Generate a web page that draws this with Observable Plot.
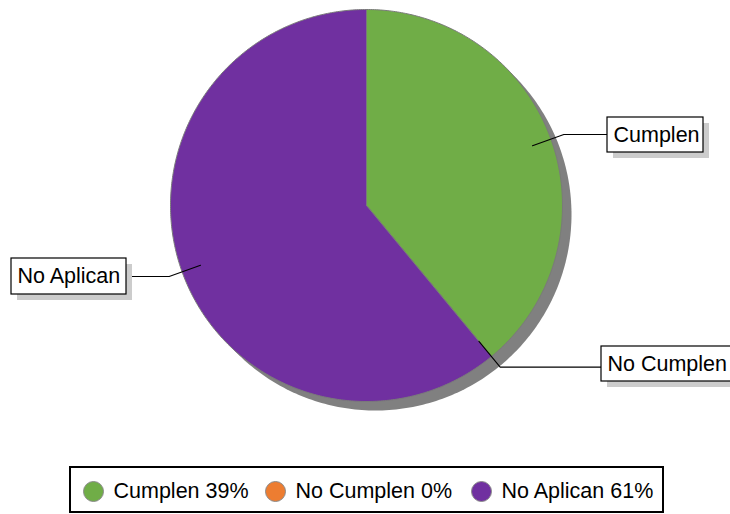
<!DOCTYPE html>
<html>
<head>
<meta charset="utf-8">
<script src="https://cdn.jsdelivr.net/npm/d3@7"></script>
<script src="https://cdn.jsdelivr.net/npm/@observablehq/plot@0.6"></script>
<style>
  html, body { margin: 0; padding: 0; background: #fff; }
  #chart svg { display: block; font-family: "Liberation Sans", Arial, sans-serif; }
</style>
</head>
<body>
<div id="chart"></div>
<script>
// ---- data ----
const categories = ["Cumplen", "No Cumplen", "No Aplican"];
const values = [39, 0, 61];
const colors = ["#70AD47", "#ED7D31", "#7030A0"];

// ---- layout ----
const W = 730, H = 514;
const cx = 366, cy = 205, R = 196;
const shadowOff = 9;
const labelBoxes = [
  {x1: 607, x2: 703, y1: 117, y2: 152},
  {x1: 601, x2: 736, y1: 346, y2: 381},
  {x1: 11,  x2: 126, y1: 258, y2: 294}
];
const legendBox = {x1: 70, x2: 663, y1: 467, y2: 512};
const legendX = [93, 275, 481];
const legendY = 491;
const fontSize = 21.5;

const data = categories.map((c, i) => ({name: c, value: values[i], color: colors[i]}));
const arcs = d3.pie().sort(null).value(d => d.value)(data);

const pt = (a, r) => [cx + r * Math.sin(a), cy - r * Math.cos(a)];

// slice polygons
const slicePts = [];
arcs.forEach((a, i) => {
  slicePts.push({k: i, x: cx, y: cy, name: a.data.name});
  const n = Math.max(2, Math.ceil((a.endAngle - a.startAngle) / 0.01));
  for (let j = 0; j <= n; j++) {
    const t = a.startAngle + (a.endAngle - a.startAngle) * j / n;
    const [x, y] = pt(t, R);
    slicePts.push({k: i, x, y, name: a.data.name});
  }
  slicePts.push({k: i, x: cx, y: cy, name: a.data.name});
});

// shadow circle
const shadowPts = d3.range(0, 361).map(d => {
  const [x, y] = pt(d * Math.PI / 180, R);
  return {x: x + shadowOff, y: y + shadowOff};
});

// leader lines
const leaderPts = [];
arcs.forEach((a, i) => {
  const mid = (a.startAngle + a.endAngle) / 2;
  const [x0, y0] = pt(mid, R * 0.9);
  const [x1, y1] = pt(mid, R * 1.07);
  const b = labelBoxes[i];
  const xe = x1 > cx ? b.x1 : b.x2;
  leaderPts.push({k: i, x: x0, y: y0}, {k: i, x: x1, y: y1}, {k: i, x: xe, y: y1});
});

const labelData = arcs.map((a, i) => ({
  name: a.data.name,
  x: labelBoxes[i].x1 + 6,
  y: (labelBoxes[i].y1 + labelBoxes[i].y2) / 2
}));

const legendData = data.map((d, i) => ({
  label: `${d.name} ${d.value}%`, color: d.color, x: legendX[i], y: legendY
}));

const plot = Plot.plot({
  width: W, height: H,
  margin: 0,
  x: {domain: [0, W], range: [0, W], axis: null},
  y: {domain: [0, H], range: [0, H], axis: null},
  marks: [
    // pie shadow
    Plot.line(shadowPts, {x: "x", y: "y", fill: "#808080", stroke: "none", curve: "linear"}),
    // slices
    Plot.line(slicePts, {x: "x", y: "y", z: "k", fill: d => colors[d.k], stroke: "#7a7a7a", strokeWidth: 1, curve: "linear"}),
    // leader lines
    Plot.line(leaderPts, {x: "x", y: "y", z: "k", stroke: "#000", strokeWidth: 1.1, curve: "linear"}),
    // label box shadows
    Plot.rect(labelBoxes, {x1: d => d.x1 + 6, x2: d => d.x2 + 6, y1: d => d.y1 + 6, y2: d => d.y2 + 6, fill: "#cccccc"}),
    // label boxes
    Plot.rect(labelBoxes, {x1: "x1", x2: "x2", y1: "y1", y2: "y2", fill: "#fff", stroke: "#000", strokeWidth: 1.2}),
    Plot.text(labelData, {x: "x", y: "y", text: "name", textAnchor: "start", fontSize, fill: "#000"}),
    // legend
    Plot.rect([legendBox], {x1: "x1", x2: "x2", y1: "y1", y2: "y2", fill: "#fff", stroke: "#000", strokeWidth: 2}),
    Plot.dot(legendData, {x: "x", y: "y", r: 10, fill: "color", stroke: "#8a8a8a", strokeWidth: 1}),
    Plot.text(legendData, {x: d => d.x + 20, y: "y", text: "label", textAnchor: "start", fontSize, fill: "#000"})
  ]
});
document.getElementById("chart").appendChild(plot);
</script>
</body>
</html>
